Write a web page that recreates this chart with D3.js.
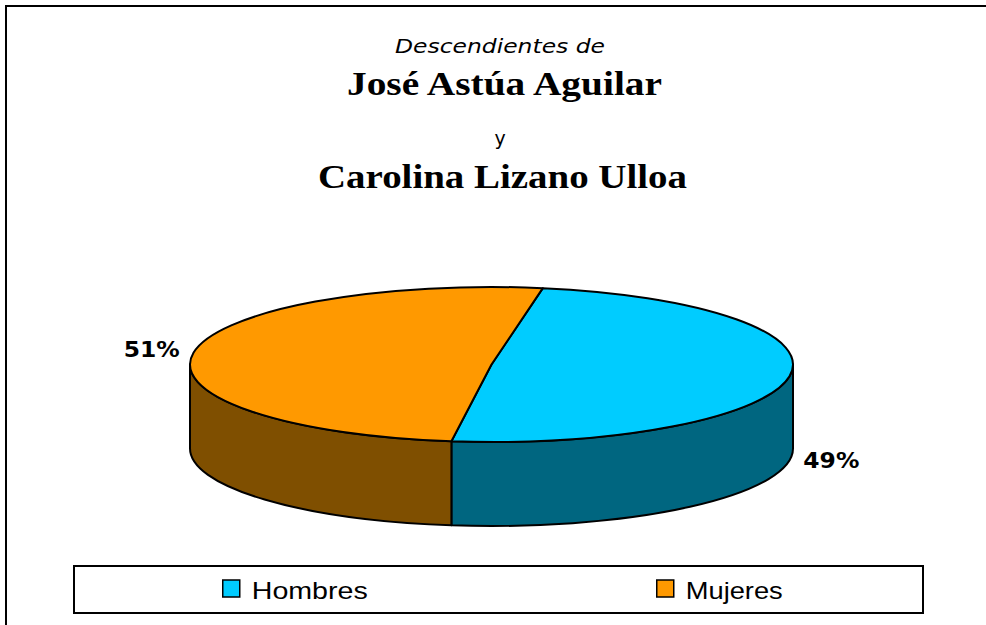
<!DOCTYPE html>
<html>
<head>
<meta charset="utf-8">
<script src="https://cdn.jsdelivr.net/npm/d3@7"></script>
<style>
  html, body { margin: 0; padding: 0; background: #fff; }
  svg { display: block; }
</style>
</head>
<body>
<div id="chart"></div>
<script>
const categories = ['Hombres', 'Mujeres'];
const shares = [49.4, 50.6];
const titleItalic = 'Descendientes de';
const nameOne = 'José Astúa Aguilar';
const joiner = 'y';
const nameTwo = 'Carolina Lizano Ulloa';

const topColor = d3.scaleOrdinal().domain(categories).range(['#00ccff', '#ff9900']);
const sideColor = d3.scaleOrdinal().domain(categories).range(['#006680', '#7f4f00']);

const width = 986;
const height = 625;

const svg = d3
  .select('#chart')
  .append('svg')
  .attr('width', width)
  .attr('height', height);

// outer chart frame (runs off the right / bottom of the picture)
svg
  .append('rect')
  .attr('x', 6)
  .attr('y', 6)
  .attr('width', 1200)
  .attr('height', 800)
  .attr('fill', '#fff')
  .attr('stroke', '#000')
  .attr('stroke-width', 2);

// titles
const title = svg.append('g').attr('text-anchor', 'middle').attr('fill', '#000');
title
  .append('text')
  .attr('x', 500)
  .attr('y', 53)
  .style('font-family', '"DejaVu Sans", Verdana, sans-serif')
  .style('font-style', 'italic')
  .style('font-size', '19px')
  .attr('textLength', 210)
  .attr('lengthAdjust', 'spacingAndGlyphs')
  .text(titleItalic);
title
  .append('text')
  .attr('x', 504.5)
  .attr('y', 95)
  .style('font-family', '"Liberation Serif", "Times New Roman", serif')
  .style('font-weight', 'bold')
  .style('font-size', '33px')
  .attr('textLength', 315)
  .attr('lengthAdjust', 'spacingAndGlyphs')
  .text(nameOne);
title
  .append('text')
  .attr('x', 500)
  .attr('y', 145)
  .style('font-family', '"DejaVu Sans", Verdana, sans-serif')
  .style('font-size', '19px')
  .text(joiner);
title
  .append('text')
  .attr('x', 502.5)
  .attr('y', 188)
  .style('font-family', '"Liberation Serif", "Times New Roman", serif')
  .style('font-weight', 'bold')
  .style('font-size', '33px')
  .attr('textLength', 369)
  .attr('lengthAdjust', 'spacingAndGlyphs')
  .text(nameTwo);

// 3D pie geometry
const cx = 491.5;
const cy = 364.5;
const rx = 301.5;
const ry = 77.5;
const depth = 84;
const rotation = (9.8 * Math.PI) / 180;

const data = categories.map((name, i) => ({ name, value: shares[i] }));
const total = d3.sum(shares);

const pie = d3
  .pie()
  .sort(null)
  .value((d) => d.value)
  .startAngle(rotation)
  .endAngle(rotation + 2 * Math.PI);
const slices = pie(data);

function pt(a, dz = 0) {
  return [cx + rx * Math.sin(a), cy - ry * Math.cos(a) + dz];
}

function topPath(d) {
  const p0 = pt(d.startAngle);
  const p1 = pt(d.endAngle);
  const large = d.endAngle - d.startAngle > Math.PI ? 1 : 0;
  return `M${cx},${cy}L${p0}A${rx},${ry} 0 ${large} 1 ${p1}Z`;
}

function sidePath(lo, hi) {
  const p0 = pt(lo);
  const p1 = pt(hi);
  const q1 = pt(hi, depth);
  const q0 = pt(lo, depth);
  return `M${p0}A${rx},${ry} 0 0 1 ${p1}L${q1}A${rx},${ry} 0 0 0 ${q0}Z`;
}

// front-facing wall pieces
const walls = [];
slices.forEach((d) => {
  [0, 1].forEach((k) => {
    const lo = Math.max(d.startAngle, Math.PI / 2 + 2 * Math.PI * k);
    const hi = Math.min(d.endAngle, (3 * Math.PI) / 2 + 2 * Math.PI * k);
    if (hi > lo) walls.push({ name: d.data.name, lo, hi });
  });
});

const pieG = svg.append('g');

pieG
  .selectAll('path.wall')
  .data(walls)
  .join('path')
  .attr('class', 'wall')
  .attr('d', (d) => sidePath(d.lo, d.hi))
  .attr('fill', (d) => sideColor(d.name))
  .attr('stroke', '#000')
  .attr('stroke-width', 2)
  .attr('stroke-linejoin', 'round');

pieG
  .selectAll('path.top')
  .data(slices)
  .join('path')
  .attr('class', 'top')
  .attr('d', topPath)
  .attr('fill', (d) => topColor(d.data.name))
  .attr('stroke', '#000')
  .attr('stroke-width', 2)
  .attr('stroke-linejoin', 'round');

// percentage labels
svg
  .append('g')
  .selectAll('text')
  .data(slices)
  .join('text')
  .each(function (d) {
    const mid = (d.startAngle + d.endAngle) / 2;
    const front = Math.cos(mid) < 0;
    const x = cx + (rx + 14) * Math.sin(mid);
    const y = cy - ry * Math.cos(mid) + (front ? depth : 0);
    d3.select(this)
      .attr('x', x)
      .attr('y', y)
      .attr('dy', front ? '0.38em' : '0.18em')
      .attr('text-anchor', Math.sin(mid) < 0 ? 'end' : 'start');
  })
  .style('font-family', '"DejaVu Sans", Verdana, sans-serif')
  .style('font-weight', 'bold')
  .style('font-size', '21px')
  .attr('textLength', 56)
  .attr('lengthAdjust', 'spacingAndGlyphs')
  .attr('fill', '#000')
  .text((d) => `${Math.round((d.data.value / total) * 100)}%`);

// legend
const legend = { x0: 74, x1: 923, y: 566, h: 47 };
const lg = svg.append('g');
lg.append('rect')
  .attr('x', legend.x0)
  .attr('y', legend.y)
  .attr('width', legend.x1 - legend.x0)
  .attr('height', legend.h)
  .attr('fill', '#fff')
  .attr('stroke', '#000')
  .attr('stroke-width', 2);

const lx = d3.scaleBand().domain(categories).range([legend.x0, legend.x1]);
const textWidths = { Hombres: 116, Mujeres: 97 };

const items = lg
  .selectAll('g.item')
  .data(categories)
  .join('g')
  .attr('class', 'item')
  .attr('transform', (c) => {
    const w = 18 + 11 + textWidths[c];
    const start = lx(c) + lx.bandwidth() / 2 - w / 2 + 9;
    return `translate(${start},${legend.y})`;
  });

items
  .append('rect')
  .attr('x', 0)
  .attr('y', 14)
  .attr('width', 17)
  .attr('height', 17)
  .attr('fill', (c) => topColor(c))
  .attr('stroke', '#000')
  .attr('stroke-width', 1.5);

items
  .append('text')
  .attr('x', 29)
  .attr('y', 33)
  .style('font-family', '"Liberation Sans", Arial, sans-serif')
  .style('font-size', '24px')
  .attr('textLength', (c) => textWidths[c])
  .attr('lengthAdjust', 'spacingAndGlyphs')
  .attr('fill', '#000')
  .text((c) => c);
</script>
</body>
</html>
